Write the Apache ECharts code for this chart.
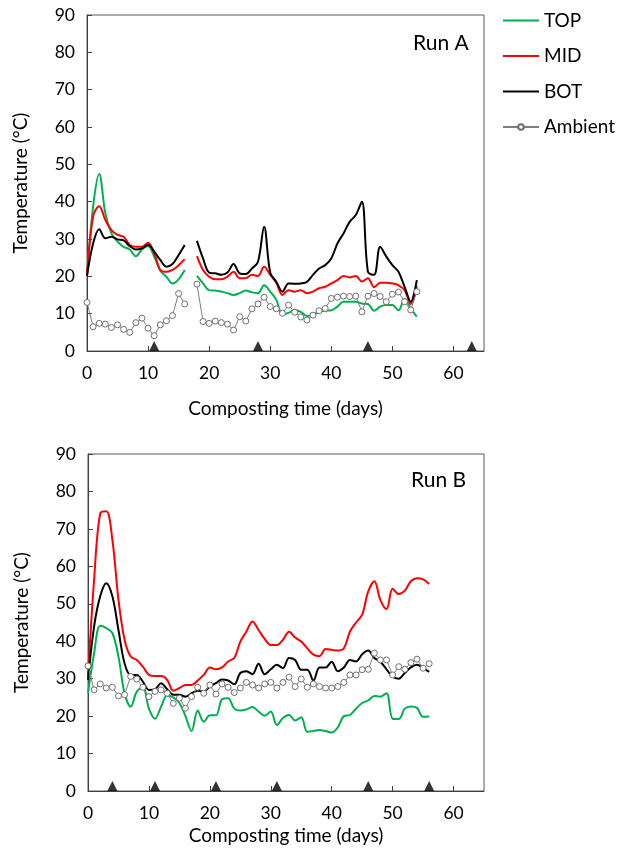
<!DOCTYPE html>
<html>
<head>
<meta charset="utf-8">
<script src="https://cdn.jsdelivr.net/npm/echarts@6/dist/echarts.min.js"></script>
<style>
html,body{margin:0;padding:0;background:#fff;}
#chart{width:617px;height:850px;}
</style>
</head>
<body>
<div id="chart"></div>
<script>
// ---------- Data ----------
var seriesNames = ['TOP', 'MID', 'BOT', 'Ambient'];
var xTickLabels = [0, 10, 20, 30, 40, 50, 60];
var yTickLabels = [0, 10, 20, 30, 40, 50, 60, 70, 80, 90];

// Run A (days 0..54, no data on day 17)
var daysA = [0,1,2,3,4,5,6,7,8,9,10,11,12,13,14,15,16,17,18,19,20,21,22,23,24,25,26,27,28,29,30,31,32,33,34,35,36,37,38,39,40,41,42,43,44,45,46,47,48,49,50,51,52,53,54];
var topA = [20.1,38.7,47.4,36.9,31.5,29.3,27.9,27.2,25.4,27.2,28.1,25.3,21.5,19.9,18.1,19.2,21.7,null,20.1,18.1,16.3,16.2,15.9,15.5,15.0,15.5,16.2,15.7,15.5,17.6,15.9,13.7,9.8,10.2,11.0,10.5,9.4,9.6,10.5,10.8,10.9,11.9,13.2,13.2,13.2,12.7,12.6,10.8,11.9,12.3,12.3,10.9,14.0,11.4,9.2];
var midA = [20.1,36.0,38.8,35.1,32.4,31.1,30.6,28.4,27.9,27.9,29.0,26.2,21.7,21.2,21.7,23.0,24.6,null,25.4,21.7,19.9,19.2,19.2,19.9,21.2,19.5,19.5,20.4,20.1,22.6,20.4,18.3,15.0,16.3,15.9,16.3,15.5,15.9,16.8,17.2,18.1,19.0,20.1,19.7,20.1,18.6,19.5,17.1,18.3,18.3,18.1,17.6,16.3,12.6,17.4];
var botA = [20.1,28.8,32.6,30.2,30.6,29.9,29.6,28.1,27.2,27.5,28.4,26.6,24.4,22.6,23.3,25.7,28.4,null,29.5,24.8,21.0,20.8,20.4,21.0,23.3,20.8,20.6,22.1,23.9,33.3,21.0,18.5,15.9,18.1,18.0,18.1,18.5,20.4,22.1,23.0,24.8,28.8,31.5,34.6,36.4,40.0,21.2,20.4,27.9,25.3,23.0,21.2,17.2,13.2,19.0];
var ambA = [13.0,6.5,7.4,7.2,6.3,7.0,5.8,5.0,7.6,8.8,6.1,4.1,7.0,8.1,9.5,15.4,12.6,null,17.9,7.9,7.4,8.0,7.6,7.2,5.6,9.2,8.0,11.3,12.6,14.4,11.9,11.3,10.1,12.3,10.4,9.1,8.3,9.6,10.8,11.4,14.1,14.4,14.7,14.6,14.7,10.5,14.7,15.4,14.6,13.2,15.2,15.8,13.2,11.0,15.9];
var turnDaysA = [11, 28, 46, 63];

// Run B (days 0..56)
var daysB = [0,1,2,3,4,5,6,7,8,9,10,11,12,13,14,15,16,17,18,19,20,21,22,23,24,25,26,27,28,29,30,31,32,33,34,35,36,37,38,39,40,41,42,43,44,45,46,47,48,49,50,51,52,53,54,55,56];
var topB = [26.1,36.8,44.1,43.5,42.2,35.9,26.1,22.5,26.5,27.8,22.0,19.3,22.5,25.5,25.0,23.5,20.0,16.0,21.5,18.5,20.2,20.2,24.5,24.8,22.0,21.5,21.8,22.4,21.2,20.1,21.2,17.6,19.5,20.3,18.8,19.7,15.8,16.0,16.3,16.0,15.6,17.0,20.0,20.3,22.0,23.5,24.2,25.4,25.2,26.1,19.3,19.2,22.0,22.6,22.2,19.8,19.9];
var midB = [30.6,56.4,74.1,74.7,67.1,51.1,40.4,35.9,35.0,33.2,31.0,30.7,30.7,29.7,26.8,27.5,28.3,28.3,29.5,31.0,33.0,32.5,33.0,34.6,35.5,39.9,42.6,45.3,43.0,40.6,39.0,39.0,40.4,42.5,41.0,39.9,38.1,36.4,36.0,37.9,37.7,37.5,38.1,42.6,45.0,47.1,53.3,56.0,51.0,48.6,54.0,52.6,53.5,56.0,56.8,56.5,55.3];
var botB = [29.7,43.9,52.0,55.5,52.0,43.0,34.1,31.0,31.0,29.2,27.0,27.2,28.8,27.2,25.7,25.7,25.2,26.1,26.8,26.6,27.9,28.8,29.8,29.5,28.5,31.5,32.0,31.2,34.0,31.2,32.5,33.7,32.8,35.5,35.0,32.4,32.4,29.5,33.0,33.0,34.5,32.0,33.0,35.0,34.6,36.5,37.5,35.5,34.5,32.5,30.5,30.0,31.5,33.0,33.7,32.8,31.8];
var ambB = [33.4,27.0,28.6,27.5,27.7,25.4,25.7,30.6,29.9,27.7,25.2,26.6,27.0,26.1,23.4,24.8,22.1,25.2,27.7,26.1,28.3,25.9,28.6,27.7,26.3,27.5,29.0,28.3,27.5,28.6,29.0,27.5,29.0,30.4,27.9,29.9,27.7,28.6,27.9,27.5,27.5,27.9,29.0,31.0,31.0,32.4,32.5,36.8,35.0,35.0,31.0,33.2,32.5,34.3,35.2,32.8,34.0];
var turnDaysB = [4, 11, 21, 31, 46, 56];

// ---------- Build ----------
var FONT = 'Lato';
var FS = 17.5;      // tick labels
var FS_NAME = 19;   // axis titles
var COLORS = { TOP: '#00B050', MID: '#FF0000', BOT: '#000000', Ambient: '#7F7F7F' };
var LINE_ICON = 'path://M0,0H36V2H0Z';

function pairs(days, vals) {
  return days.map(function (d, i) { return [d, vals[i] == null ? '-' : vals[i]]; });
}
function lineSeries(name, days, vals, gi) {
  return {
    name: name, type: 'line', xAxisIndex: gi, yAxisIndex: gi,
    data: pairs(days, vals), smooth: 0.35, symbol: 'none',
    connectNulls: false,
    lineStyle: { color: COLORS[name], width: 2 },
    itemStyle: { color: COLORS[name] },
    emphasis: { disabled: true }, z: 3
  };
}
function ambSeries(days, vals, gi) {
  return {
    name: 'Ambient', type: 'line', xAxisIndex: gi, yAxisIndex: gi,
    data: pairs(days, vals), smooth: false, symbol: 'circle', symbolSize: 6,
    showSymbol: true, connectNulls: false,
    lineStyle: { color: '#7F7F7F', width: 1 },
    itemStyle: { color: '#FFFFFF', borderColor: '#6F6F6F', borderWidth: 1 },
    emphasis: { disabled: true }, z: 4
  };
}
function triSeries(days, gi) {
  return {
    name: 'turn', type: 'scatter', xAxisIndex: gi, yAxisIndex: gi,
    data: days.map(function (d) { return [d, 0]; }),
    symbol: 'triangle', symbolSize: [10, 10], symbolOffset: [0, -5],
    itemStyle: { color: '#000' }, clip: false, silent: true, z: 6
  };
}
function xAxis(gi) {
  return {
    type: 'value', gridIndex: gi, min: 0, max: 65, interval: 10,
    name: 'Composting time (days)', nameLocation: 'middle', nameGap: gi === 0 ? 48 : 35,
    nameTextStyle: { fontFamily: FONT, fontSize: FS_NAME, color: '#000' },
    axisLine: { show: true, lineStyle: { color: '#404040', width: 1 } },
    axisTick: { show: true, inside: true, length: 5, lineStyle: { color: '#404040' } },
    axisLabel: { fontFamily: FONT, fontSize: FS, color: '#000', margin: 13, showMaxLabel: false,
      formatter: function (v) { return xTickLabels.indexOf(v) >= 0 ? String(v) : ''; } },
    splitLine: { show: false }
  };
}
function yAxis(gi) {
  return {
    type: 'value', gridIndex: gi, min: 0, max: 90, interval: 10,
    name: 'Temperature (\u00B0C)', nameLocation: 'middle', nameGap: 57, nameRotate: 90,
    nameTextStyle: { fontFamily: FONT, fontSize: FS_NAME, color: '#000' },
    axisLine: { show: true, lineStyle: { color: '#404040', width: 1 } },
    axisTick: { show: true, inside: true, length: 5, lineStyle: { color: '#404040' } },
    axisLabel: { fontFamily: FONT, fontSize: FS, color: '#000', margin: 12,
      formatter: function (v) { return yTickLabels.indexOf(v) >= 0 ? String(v) : ''; } },
    splitLine: { show: false }
  };
}

var chart = echarts.init(document.getElementById('chart'), null, { renderer: 'canvas' });
chart.setOption({
  animation: false,
  backgroundColor: '#fff',
  textStyle: { fontFamily: FONT },
  title: [
    { text: 'Run A', left: 408, top: 28, textStyle: { fontFamily: FONT, fontSize: 21, fontWeight: 'normal', color: '#000' } },
    { text: 'Run B', left: 406, top: 465, textStyle: { fontFamily: FONT, fontSize: 21, fontWeight: 'normal', color: '#000' } }
  ],
  legend: {
    data: [
      { name: 'TOP', icon: LINE_ICON },
      { name: 'MID', icon: LINE_ICON },
      { name: 'BOT', icon: LINE_ICON },
      { name: 'Ambient' }
    ],
    orient: 'vertical', left: 497, top: 6,
    itemWidth: 36, itemHeight: 7, itemGap: 16.5,
    textStyle: { fontFamily: FONT, fontSize: FS_NAME, color: '#000', padding: [0, 0, 0, 0] },
    selectedMode: false
  },
  grid: [
    { left: 87, top: 15, width: 397, height: 336, show: true, borderColor: '#595959', borderWidth: 1, backgroundColor: 'transparent' },
    { left: 88, top: 454, width: 396, height: 337, show: true, borderColor: '#595959', borderWidth: 1, backgroundColor: 'transparent' }
  ],
  xAxis: [xAxis(0), xAxis(1)],
  yAxis: [yAxis(0), yAxis(1)],
  series: [
    lineSeries('TOP', daysA, topA, 0),
    lineSeries('MID', daysA, midA, 0),
    lineSeries('BOT', daysA, botA, 0),
    ambSeries(daysA, ambA, 0),
    triSeries(turnDaysA, 0),
    lineSeries('TOP', daysB, topB, 1),
    lineSeries('MID', daysB, midB, 1),
    lineSeries('BOT', daysB, botB, 1),
    ambSeries(daysB, ambB, 1),
    triSeries(turnDaysB, 1)
  ]
});
</script>
</body>
</html>
